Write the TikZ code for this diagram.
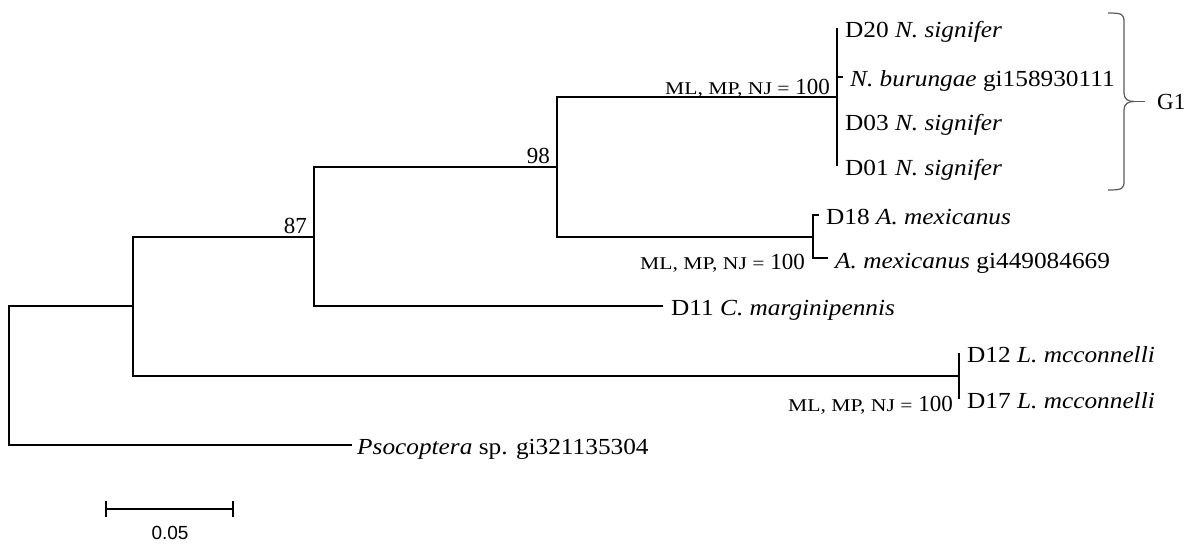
\documentclass[tikz,border=0pt]{standalone}
\usepackage{fontspec}
\setmainfont{Liberation Serif}
\newfontfamily\tipfont[FakeStretch=1.1]{Liberation Serif}
\newfontfamily\supfont[FakeStretch=1.2]{Liberation Serif}
\newfontfamily\barfont{Liberation Sans}
\definecolor{brace}{HTML}{5A5A5A}
\begin{document}
\begin{tikzpicture}[x=1pt,y=-1pt,
  branch/.style={line width=1.8pt},
  tiplab/.style={anchor=west, inner sep=0pt, text height=15pt, text depth=0pt,
    font=\tipfont\fontsize{23}{27}\selectfont},
  boot/.style={anchor=base east, inner sep=0pt, font=\fontsize{23}{27}\selectfont},
  suplab/.style={anchor=base east, inner sep=0pt, font=\fontsize{23}{27}\selectfont},
  bracestyle/.style={draw=brace, line width=1.2pt},
  scalebar/.style={line width=1.8pt}]
\useasboundingbox (0,0) rectangle (1193,544);
\newcommand{\supp}{{\supfont\fontsize{18}{20}\selectfont ML, MP, NJ =}\ 100}
% internal nodes
\coordinate (root) at (9,375.5);
\coordinate (n133) at (133,306);
\coordinate (n314) at (314,237);
\coordinate (n557) at (557,167);
\coordinate (nN) at (837,97);
\coordinate (nA) at (813,237);
\coordinate (nL) at (959,376);
% tip ends
\coordinate (t20) at (837,28);
\coordinate (tB) at (843,77);
\coordinate (t03) at (837,121);
\coordinate (t01) at (837,166);
\coordinate (t18) at (819,215);
\coordinate (tAg) at (828,258);
\coordinate (t11) at (663,306);
\coordinate (t12) at (959,353);
\coordinate (t17) at (959,399);
\coordinate (tPs) at (352,445);
% branches
\draw[branch] (root) |- (n133);
\draw[branch] (root) |- (tPs);
\draw[branch] (n133) |- (n314);
\draw[branch] (n133) |- (nL);
\draw[branch] (n314) |- (n557);
\draw[branch] (n314) |- (t11);
\draw[branch] (n557) |- (nN);
\draw[branch] (n557) |- (nA);
\draw[branch] (nN) |- (t20);
\draw[branch] (nN) |- (tB);
\draw[branch] (nN) |- (t03);
\draw[branch] (nN) |- (t01);
\draw[branch] (nA) |- (t18);
\draw[branch] (nA) |- (tAg);
\draw[branch] (nL) |- (t12);
\draw[branch] (nL) |- (t17);
% tip labels
\node[tiplab] (l20) at ([xshift=8pt,yshift=-2pt]t20) {D20 \textit{N. signifer}};
\node[tiplab] (lB) at ([xshift=7pt,yshift=-2pt]tB) {\textit{N. burungae} gi158930111};
\node[tiplab] (l03) at ([xshift=8pt,yshift=-2pt]t03) {D03 \textit{N. signifer}};
\node[tiplab] (l01) at ([xshift=8pt,yshift=-2pt]t01) {D01 \textit{N. signifer}};
\node[tiplab] (l18) at ([xshift=7pt,yshift=-2pt]t18) {D18 \textit{A. mexicanus}};
\node[tiplab] (lAg) at ([xshift=7pt,yshift=-3pt]tAg) {\textit{A. mexicanus} gi449084669};
\node[tiplab] (l11) at ([xshift=8pt,yshift=-2pt]t11) {D11 \textit{C. marginipennis}};
\node[tiplab] (l12) at ([xshift=8pt,yshift=-2pt]t12) {D12 \textit{L. mcconnelli}};
\node[tiplab] (l17) at ([xshift=8pt,yshift=-2pt]t17) {D17 \textit{L. mcconnelli}};
\node[tiplab] (lPs) at ([xshift=5pt,yshift=-2pt]tPs) {\textit{Psocoptera} sp. gi321135304};
% support values
\node[boot] (b87) at ([xshift=-7pt,yshift=4pt]n314) {87};
\node[boot] (b98) at ([xshift=-7pt,yshift=4pt]n557) {98};
\node[suplab] (sN) at ([xshift=-7pt,yshift=3pt]nN) {\supp};
\node[suplab] (sA) at ([xshift=-8pt,yshift=-32pt]nA) {\supp};
\node[suplab] (sL) at ([xshift=-6pt,yshift=-35pt]nL) {\supp};
% G1 brace
\coordinate (bt) at (1108,13);
\coordinate (bb) at (1108,190);
\coordinate (bm) at (1134,101.5);
\draw[bracestyle] (bt) .. controls (1122,13) and (1124,14) .. (1124,22) -- (1124,93)
  .. controls (1124,99) and (1128,101.5) .. (bm);
\draw[bracestyle] (bm) .. controls (1128,101.5) and (1124,104) .. (1124,110) -- (1124,181)
  .. controls (1124,189) and (1122,190) .. (bb);
\node[anchor=west, inner sep=0pt, font=\fontsize{23}{27}\selectfont] (g1) at (1157,101.5) {G1};
\draw[bracestyle] (bm) -- (g1.west -| 1145,0);
% scale bar
\coordinate (sbL) at (106,509);
\coordinate (sbR) at (233,509);
\draw[scalebar] (sbL) -- (sbR);
\draw[scalebar] ([yshift=8pt]sbL) -- ([yshift=-8pt]sbL);
\draw[scalebar] ([yshift=8pt]sbR) -- ([yshift=-8pt]sbR);
\node[font=\barfont\fontsize{19}{22}\selectfont, inner sep=0pt] (sbt) at (170,533) {0.05};
\end{tikzpicture}
\end{document}
